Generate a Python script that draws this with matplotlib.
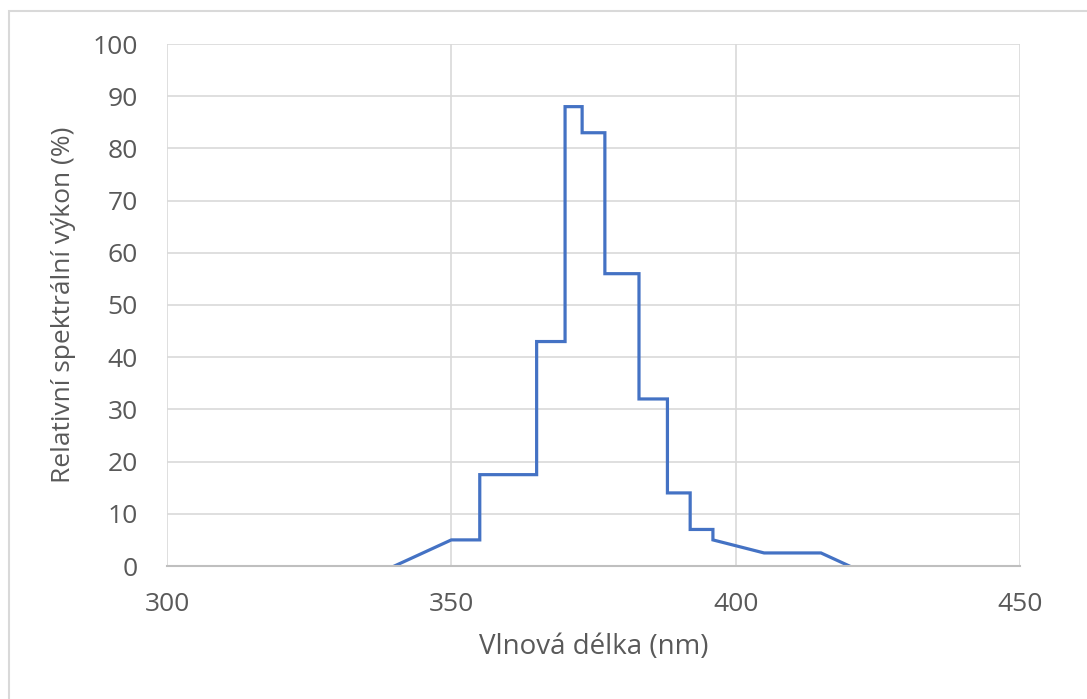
import matplotlib
matplotlib.use("Agg")
from matplotlib import pyplot as plt
from matplotlib.patches import Rectangle

# vlnová délka (nm) a relativní výkon (%) - schodovitý průběh
wavelength = [340, 350, 355, 355, 365, 365, 370, 370, 373, 373, 377, 377,
              383, 383, 388, 388, 392, 392, 396, 396, 405, 415, 420]
power = [0, 5, 5, 17.5, 17.5, 43, 43, 88, 88, 83, 83, 56,
         56, 32, 32, 14, 14, 7, 7, 5, 2.5, 2.5, 0]

x_ticks = [300, 350, 400, 450]
y_ticks = list(range(0, 101, 10))

plt.rcParams['font.family'] = ['Open Sans', 'DejaVu Sans']
txt = "#595959"

fig = plt.figure(figsize=(10.87, 6.99), dpi=100)
ax = fig.add_axes([167/1087, 1-566/699, (1020-167)/1087, (566-44)/699])

# rámeček grafu jako v Excelu
fig.patches.append(Rectangle((9/1087, -0.01), 1.0, 1-11/699+0.01,
                             transform=fig.transFigure, fill=False,
                             edgecolor="#d9d9d9", linewidth=1.5))

ax.plot(wavelength, power, color="#4472C4", linewidth=2.3, solid_joinstyle="miter")

ax.set_xlim(300, 450)
ax.set_ylim(0, 100)
ax.set_xticks(x_ticks)
ax.set_yticks(y_ticks)
ax.grid(True, color="#d9d9d9", linewidth=1.2)
ax.set_axisbelow(True)
for s in ["top", "right", "left"]:
    ax.spines[s].set_visible(False)
ax.spines["bottom"].set_color("#bfbfbf")
ax.spines["bottom"].set_linewidth(1.5)
ax.tick_params(axis="both", length=0, labelsize=19, labelcolor=txt)
ax.tick_params(axis="y", pad=21)
ax.tick_params(axis="x", pad=19)

ax.set_xlabel("Vlnová délka (nm)", fontsize=20, color=txt, labelpad=11)
ax.set_ylabel("Relativní spektrální výkon (%)", fontsize=19, color=txt, labelpad=12)

fig.savefig("out.png", dpi=100)
